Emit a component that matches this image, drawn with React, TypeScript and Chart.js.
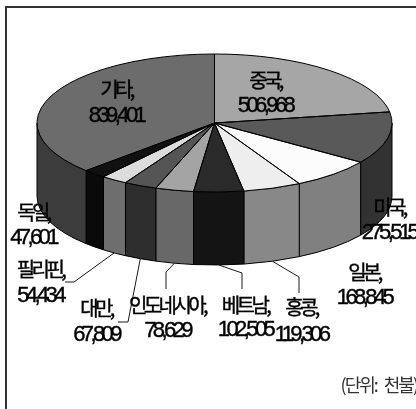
import { useEffect, useRef } from "react";
import { Chart, registerables } from "chart.js";

Chart.register(...registerables);

// Export value by destination, clockwise from twelve o'clock.
const categories = ["중국", "미국", "일본", "홍콩", "베트남", "인도네시아", "대만", "필리핀", "독일", "기타"];
const values = [506968, 275515, 168845, 119306, 102505, 78629, 67809, 54434, 47601, 839401];
const unitNote = "(단위: 천불)";

const topColors = ["#a6a6a6", "#595959", "#fcfcfc", "#eeeeee", "#2a2a2a", "#a4a4a4", "#555555", "#dcdcdc", "#111111", "#6c6c6c"];
const wallColors = ["#555555", "#323232", "#808080", "#888888", "#141414", "#686868", "#2e2e2e", "#6e6e6e", "#0a0a0a", "#3c3c3c"];

// Text anchors: horizontal centre, name baseline, value baseline.
const labelSpots: number[][] = [
  [265, 88, 111],
  [389, 215, 238],
  [364, 280, 303],
  [301, 315, 340],
  [245, 313, 335],
  [167, 313, 336],
  [96, 316, 340],
  [40, 277, 301],
  [33, 220, 243],
  [116, 97, 121],
];

// Elbow and end of each leader line, for the slices that have one.
const leaders: Record<string, number[][]> = {
  홍콩: [[299, 277], [299, 293]],
  베트남: [[242, 273], [242, 289]],
  인도네시아: [[166, 272], [166, 289]],
  대만: [[128, 322], [118, 322]],
  필리핀: [[74, 282], [65, 282]],
};

const WIDTH = 416;
const HEIGHT = 409;
const CENTER_Y = 123;
const RADIUS_Y = 69;
const DEPTH = 73;
const FONT_KR = '"Noto Sans CJK KR", "Liberation Sans", sans-serif';

const arcsOf = (chart: any) => chart.getDatasetMeta(0).data as any[];

const pie3d = {
  id: "pie3d",
  beforeDraw(chart: any) {
    const { ctx } = chart;
    ctx.save();
    ctx.fillStyle = "#ffffff";
    ctx.fillRect(0, 0, WIDTH, HEIGHT);
    ctx.fillStyle = "#333333";
    ctx.fillRect(5, 6, WIDTH - 5, 2);
    ctx.fillRect(5, 6, 2, HEIGHT - 6);
    ctx.restore();
  },
  beforeDatasetsDraw(chart: any) {
    const { ctx } = chart;
    const arcs = arcsOf(chart);
    const { x: cx, y: cy, outerRadius: r } = arcs[0];

    // Outer wall: only the part of each slice facing the viewer.
    ctx.save();
    ctx.strokeStyle = "#000000";
    ctx.lineWidth = 1;
    arcs.forEach((arc, i) => {
      const a0 = Math.max(arc.startAngle, 0);
      const a1 = Math.min(arc.endAngle, Math.PI);
      if (a1 <= a0) return;
      ctx.beginPath();
      ctx.ellipse(cx, CENTER_Y, r, RADIUS_Y, 0, a0, a1);
      ctx.ellipse(cx, CENTER_Y + DEPTH, r, RADIUS_Y, 0, a1, a0, true);
      ctx.closePath();
      ctx.fillStyle = wallColors[i];
      ctx.fill();
      ctx.stroke();
    });
    ctx.restore();

    // The slices themselves are drawn flattened into an ellipse.
    ctx.save();
    ctx.translate(cx, CENTER_Y);
    ctx.scale(1, RADIUS_Y / r);
    ctx.translate(-cx, -cy);
  },
  afterDatasetsDraw(chart: any) {
    const { ctx } = chart;
    ctx.restore();
    const arcs = arcsOf(chart);
    const { x: cx, outerRadius: r } = arcs[0];

    // Slice outlines, kept at an even width.
    ctx.save();
    ctx.strokeStyle = "#000000";
    ctx.lineWidth = 1;
    arcs.forEach((arc) => {
      ctx.beginPath();
      ctx.moveTo(cx, CENTER_Y);
      ctx.ellipse(cx, CENTER_Y, r, RADIUS_Y, 0, arc.startAngle, arc.endAngle);
      ctx.closePath();
      ctx.stroke();
    });

    // Leader lines start on the lower rim at each slice's middle angle.
    ctx.strokeStyle = "#1a1a1a";
    arcs.forEach((arc, i) => {
      const bends = leaders[categories[i]];
      if (!bends) return;
      const mid = (arc.startAngle + arc.endAngle) / 2;
      ctx.beginPath();
      ctx.moveTo(cx + r * Math.cos(mid), CENTER_Y + DEPTH + RADIUS_Y * Math.sin(mid));
      bends.forEach(([x, y]) => ctx.lineTo(x, y));
      ctx.stroke();
    });

    // Category and value labels, set large and tightly tracked.
    ctx.fillStyle = "#000000";
    ctx.strokeStyle = "#000000";
    ctx.textAlign = "center";
    ctx.textBaseline = "alphabetic";
    ctx.lineWidth = 0.4;
    categories.forEach((name, i) => {
      const [x, nameY, valueY] = labelSpots[i];
      const amount = values[i].toLocaleString("en-US");
      ctx.font = `400 20px ${FONT_KR}`;
      ctx.letterSpacing = "-3.6px";
      ctx.fillText(`${name},`, x, nameY);
      ctx.strokeText(`${name},`, x, nameY);
      ctx.font = `22px "Liberation Sans", sans-serif`;
      ctx.letterSpacing = "-3.6px";
      ctx.fillText(amount, x, valueY + 1);
      ctx.strokeText(amount, x, valueY + 1);
    });

    ctx.fillStyle = "#333333";
    ctx.textAlign = "right";
    ctx.font = `18px ${FONT_KR}`;
    ctx.letterSpacing = "-2px";
    ctx.wordSpacing = "5px";
    ctx.fillText(unitNote, 417, 392);
    ctx.restore();
  },
};

export default function App() {
  const canvasRef = useRef<HTMLCanvasElement | null>(null);

  useEffect(() => {
    const chart = new Chart(canvasRef.current as HTMLCanvasElement, {
      type: "pie",
      data: {
        labels: categories,
        datasets: [{ data: values, backgroundColor: topColors, borderWidth: 0 }],
      },
      options: {
        responsive: false,
        animation: false,
        clip: false,
        layout: { padding: { left: 37, right: 24, top: 27, bottom: 27 } },
        plugins: { legend: { display: false }, tooltip: { enabled: false } },
      },
      plugins: [pie3d],
    } as any);
    return () => chart.destroy();
  }, []);

  return (
    <canvas
      ref={canvasRef}
      width={WIDTH}
      height={HEIGHT}
      style={{ position: "absolute", left: 0, top: 0, display: "block" }}
    />
  );
}
